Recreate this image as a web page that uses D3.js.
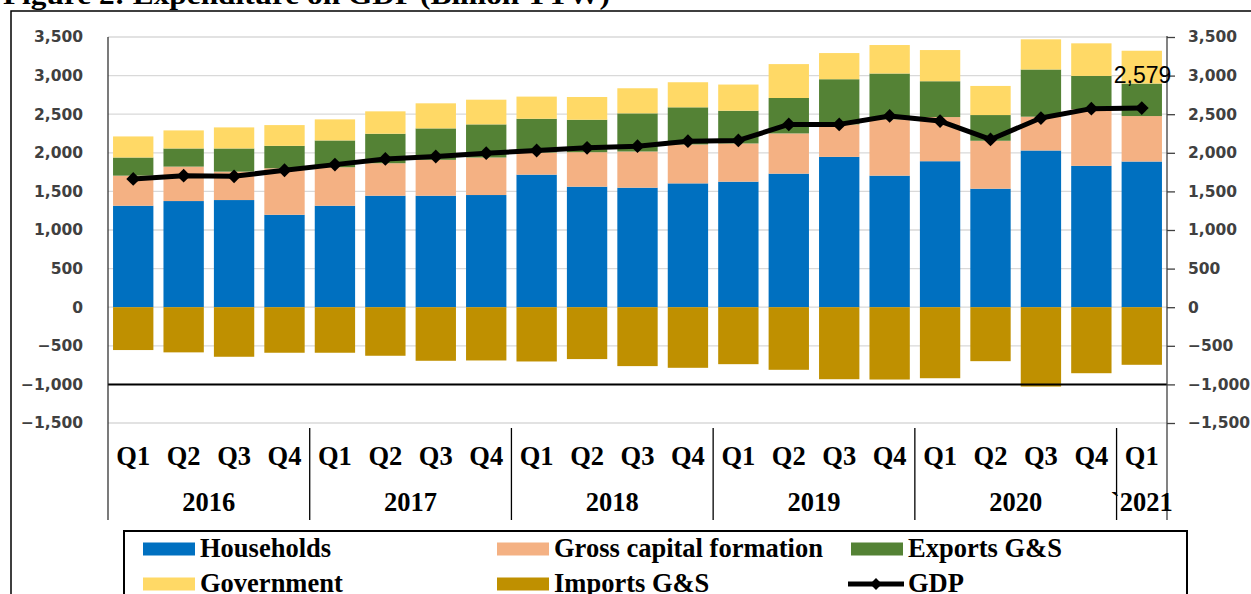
<!DOCTYPE html>
<html>
<head>
<meta charset="utf-8">
<script src="https://cdn.jsdelivr.net/npm/d3@7"></script>
<style>
  html, body { margin: 0; padding: 0; background: #fff; }
  svg { display: block; }
</style>
</head>
<body>
<svg id="chart" width="1251" height="594"></svg>
<script>
// ---- DATA ----
const quarters = ["Q1","Q2","Q3","Q4","Q1","Q2","Q3","Q4","Q1","Q2","Q3","Q4","Q1","Q2","Q3","Q4","Q1","Q2","Q3","Q4","Q1"];
const years = ["2016","2017","2018","2019","2020","`2021"];
const yearSpans = [4,4,4,4,4,1];
const households = [1314,1375,1388,1197,1314,1444,1444,1453,1717,1561,1548,1604,1626,1730,1947,1704,1891,1535,2030,1831,1887];
const grossCapital = [390,446,368,603,499,421,465,486,287,447,469,504,495,521,421,729,572,621,438,732,589];
const exportsGS = [235,235,300,290,347,382,407,429,437,420,494,481,424,459,585,594,464,333,611,433,421];
const government = [273,234,273,269,273,290,325,320,287,295,325,325,339,439,339,369,404,377,391,422,425];
const importsGS = [-555,-585,-642,-590,-590,-629,-694,-690,-703,-672,-763,-785,-738,-811,-933,-937,-920,-699,-1028,-855,-746];
const gdp = [1661,1704,1696,1774,1847,1921,1952,1995,2030,2064,2086,2151,2160,2368,2368,2477,2411,2173,2450,2572,2579];
const yTicks = [-1500,-1000,-500,0,500,1000,1500,2000,2500,3000,3500];

const seriesNames = ["Households","Gross capital formation","Exports G&S","Government","Imports G&S","GDP"];
const colors = {
  "Households": "#0070C0",
  "Gross capital formation": "#F4B183",
  "Exports G&S": "#548235",
  "Government": "#FFD966",
  "Imports G&S": "#BF9000"
};

// ---- CHART ----
const svg = d3.select("#chart");
const plot = {left: 108, right: 1167, top: 37, bottom: 423};

const idx = d3.range(quarters.length);
const x = d3.scaleBand().domain(idx).range([plot.left, plot.right]).paddingInner(0.2).paddingOuter(0.1);
const step = x.step();
const y = d3.scaleLinear().domain([-1500, 3500]).range([plot.bottom, plot.top]);

// outer border
svg.append("rect").attr("x", 11).attr("y", 11).attr("width", 1300).attr("height", 700)
  .attr("fill", "none").attr("stroke", "#000").attr("stroke-width", 1.5);

// title (clipped at top, as in the reference)
svg.append("text").attr("x", 3).attr("y", 4)
  .attr("font-family", "'Liberation Serif', 'Times New Roman', serif")
  .attr("font-weight", "bold").attr("font-size", 28)
  .attr("textLength", 607).attr("lengthAdjust", "spacingAndGlyphs")
  .text("Figure 2: Expenditure on GDP (Billion TTW)");

// gridlines
svg.append("g").selectAll("line").data(yTicks).join("line")
  .attr("x1", plot.left).attr("x2", plot.right)
  .attr("y1", d => y(d)).attr("y2", d => y(d))
  .attr("stroke", "#d9d9d9").attr("stroke-width", 1.3);

// stacked positive bars
const rows = idx.map(i => ({
  i,
  "Households": households[i],
  "Gross capital formation": grossCapital[i],
  "Exports G&S": exportsGS[i],
  "Government": government[i]
}));
const stack = d3.stack().keys(["Households","Gross capital formation","Exports G&S","Government"]);
const stacked = stack(rows);

const barsG = svg.append("g");
stacked.forEach(layer => {
  barsG.append("g").attr("fill", colors[layer.key])
    .selectAll("rect").data(layer).join("rect")
    .attr("x", d => x(d.data.i))
    .attr("width", x.bandwidth())
    .attr("y", d => y(d[1]))
    .attr("height", d => y(d[0]) - y(d[1]));
});
// imports (negative)
barsG.append("g").attr("fill", colors["Imports G&S"])
  .selectAll("rect").data(idx).join("rect")
  .attr("x", i => x(i))
  .attr("width", x.bandwidth())
  .attr("y", y(0))
  .attr("height", i => y(importsGS[i]) - y(0));

// horizontal category axis line (crosses at -1000)
svg.append("line").attr("x1", plot.left).attr("x2", plot.right)
  .attr("y1", y(-1000)).attr("y2", y(-1000))
  .attr("stroke", "#000").attr("stroke-width", 2);

const axisFont = "'DejaVu Sans', sans-serif";
// left axis
const leftAxis = d3.axisLeft(y).tickValues(yTicks).tickSize(0).tickPadding(0)
  .tickFormat(d3.format(","));
const gl = svg.append("g").attr("transform", `translate(${plot.left},0)`).call(leftAxis);
gl.select(".domain").remove();
gl.selectAll("text").attr("x", 83 - plot.left)
  .attr("font-family", axisFont).attr("font-weight", "bold")
  .attr("font-size", 15.5).attr("fill", "#404040").attr("text-anchor", "end");
svg.append("line").attr("x1", plot.left).attr("x2", plot.left)
  .attr("y1", plot.top).attr("y2", 520).attr("stroke", "#222").attr("stroke-width", 1.2);

// right axis
const rightAxis = d3.axisRight(y).tickValues(yTicks).tickSize(8).tickPadding(13)
  .tickFormat(d3.format(","));
const gr = svg.append("g").attr("transform", `translate(${plot.right},0)`).call(rightAxis);
gr.select(".domain").remove();
gr.selectAll("line").attr("stroke", "#404040").attr("stroke-width", 1.3);
gr.selectAll("text")
  .attr("font-family", axisFont).attr("font-weight", "bold")
  .attr("font-size", 15.5).attr("fill", "#404040");
svg.append("line").attr("x1", plot.right).attr("x2", plot.right)
  .attr("y1", plot.top - 1).attr("y2", 520).attr("stroke", "#404040").attr("stroke-width", 1.3);

// GDP line
const line = d3.line().x(i => x(i) + x.bandwidth() / 2).y(i => y(gdp[i]));
svg.append("path").datum(idx).attr("d", line)
  .attr("fill", "none").attr("stroke", "#000").attr("stroke-width", 5).attr("stroke-linejoin", "round");
svg.append("g").selectAll("path").data(idx).join("path")
  .attr("transform", i => `translate(${x(i) + x.bandwidth() / 2},${y(gdp[i])}) rotate(45)`)
  .attr("d", d3.symbol().type(d3.symbolSquare).size(95))
  .attr("fill", "#000");

// GDP last label
const last = idx[idx.length - 1];
svg.append("text")
  .attr("x", x(last) + x.bandwidth() / 2 - 28)
  .attr("y", y(gdp[last]) - 25)
  .attr("font-family", "'Liberation Sans', Arial, sans-serif")
  .attr("font-size", 23).attr("fill", "#000")
  .text(d3.format(",")(gdp[last]));

// category labels (quarters)
const serif = "'Liberation Serif', 'Times New Roman', serif";
svg.append("g").selectAll("text").data(idx).join("text")
  .attr("x", i => x(i) + x.bandwidth() / 2)
  .attr("y", 465)
  .attr("text-anchor", "middle")
  .attr("font-family", serif).attr("font-weight", "bold").attr("font-size", 26.5)
  .text(i => quarters[i]);

// year groups
let start = 0;
const groups = years.map((yr, k) => {
  const g = {label: yr, start, end: start + yearSpans[k]};
  start += yearSpans[k];
  return g;
});
const xEdge = j => plot.left + j * step;
svg.append("g").selectAll("line").data(groups.slice(0, -1)).join("line")
  .attr("x1", g => xEdge(g.end)).attr("x2", g => xEdge(g.end))
  .attr("y1", 428).attr("y2", 520)
  .attr("stroke", "#000").attr("stroke-width", 1.3);
svg.append("g").selectAll("text").data(groups).join("text")
  .attr("x", g => (xEdge(g.start) + xEdge(g.end)) / 2)
  .attr("y", 511)
  .attr("text-anchor", "middle")
  .attr("font-family", serif).attr("font-weight", "bold").attr("font-size", 26.5)
  .text(g => g.label);

// legend
svg.append("rect").attr("x", 124).attr("y", 531).attr("width", 1063).attr("height", 100)
  .attr("fill", "#fff").attr("stroke", "#000").attr("stroke-width", 2);
const legendPos = [
  {name: "Households", x: 143, row: 0},
  {name: "Gross capital formation", x: 497, row: 0},
  {name: "Exports G&S", x: 851, row: 0},
  {name: "Government", x: 143, row: 1},
  {name: "Imports G&S", x: 497, row: 1},
  {name: "GDP", x: 851, row: 1}
];
const lg = svg.append("g");
legendPos.forEach(p => {
  const cy = p.row === 0 ? 549 : 584;
  if (p.name === "GDP") {
    lg.append("line").attr("x1", p.x - 3).attr("x2", p.x + 53).attr("y1", cy).attr("y2", cy)
      .attr("stroke", "#000").attr("stroke-width", 5);
    lg.append("path").attr("transform", `translate(${p.x + 25},${cy}) rotate(45)`)
      .attr("d", d3.symbol().type(d3.symbolSquare).size(70)).attr("fill", "#000");
  } else {
    lg.append("rect").attr("x", p.x).attr("y", cy - 6.5).attr("width", 52).attr("height", 13)
      .attr("fill", colors[p.name]);
  }
  lg.append("text").attr("x", p.x + 57).attr("y", cy + 8)
    .attr("font-family", serif).attr("font-weight", "bold").attr("font-size", 26.5)
    .text(p.name);
});
</script>
</body>
</html>
